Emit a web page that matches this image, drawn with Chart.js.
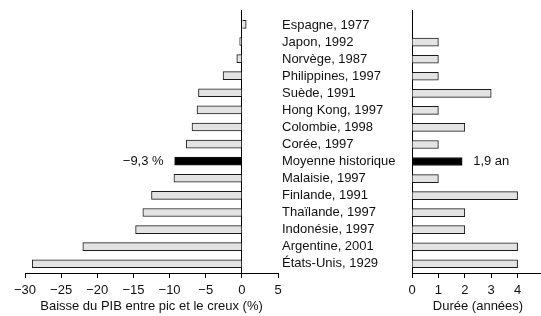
<!DOCTYPE html>
<html>
<head>
<meta charset="utf-8">
<script src="https://cdn.jsdelivr.net/npm/chart.js@4.4.0/dist/chart.umd.min.js"></script>
<style>
html, body { margin: 0; padding: 0; background: #fff; overflow: hidden; width: 541px; height: 316px; }
#left { position: absolute; left: 0; top: 0; }
#right { position: absolute; left: 276px; top: 0; }
</style>
</head>
<body>
<canvas id="left" width="292" height="316"></canvas>
<canvas id="right" width="280" height="316"></canvas>
<script>
// rows top to bottom
const countries = ['Espagne, 1977', 'Japon, 1992', 'Norvège, 1987', 'Philippines, 1997', 'Suède, 1991',
    'Hong Kong, 1997', 'Colombie, 1998', 'Corée, 1997', 'Moyenne historique', 'Malaisie, 1997',
    'Finlande, 1991', 'Thaïlande, 1997', 'Indonésie, 1997', 'Argentine, 2001', 'États-Unis, 1929'];
const gdpDrop = [0.6, -0.3, -0.7, -2.6, -6.0, -6.2, -6.9, -7.7, -9.3, -9.4, -12.5, -13.7, -14.7, -22.0, -29.0];
const duration = [0, 1, 1, 1, 3, 1, 2, 1, 1.9, 1, 4, 2, 2, 4, 4];
const avgIndex = 8;
const gdpTicks = [-30, -25, -20, -15, -10, -5, 0, 5];
const durTicks = [0, 1, 2, 3, 4, 5];

Chart.defaults.font.family = '"Liberation Sans", Arial, sans-serif';
Chart.defaults.font.size = 13;
Chart.defaults.color = '#111';

const fillColors = countries.map((c, i) => i === avgIndex ? '#000' : '#e3e3e3');

function fmt(v) {
    return v < 0 ? '\u2212' + Math.abs(v) : String(v);
}

const valueLabel = {
    id: 'valueLabel',
    afterDatasetsDraw(chart, args, opts) {
        const bar = chart.getDatasetMeta(0).data[avgIndex];
        const ctx = chart.ctx;
        ctx.save();
        ctx.font = '13px "Liberation Sans", Arial, sans-serif';
        ctx.fillStyle = '#111';
        ctx.textBaseline = 'middle';
        ctx.textAlign = opts.align;
        ctx.fillText(opts.text, bar.x + opts.dx, bar.y);
        ctx.restore();
    }
};

function rowAxis(extra) {
    return Object.assign({
        type: 'linear',
        reverse: true,
        offset: false,
        min: -0.84,
        max: 14.54,
        afterBuildTicks: scale => { scale.ticks = countries.map((c, i) => ({ value: i })); }
    }, extra);
}

function valueAxis(min, max, tickVals, title, gridColor) {
    return {
        type: 'linear',
        min: min,
        max: max,
        afterBuildTicks: scale => { scale.ticks = tickVals.map(v => ({ value: v })); },
        afterFit: scale => { scale.height = 40; },
        ticks: { callback: v => fmt(v), padding: 6, color: '#111', font: { lineHeight: 1 } },
        grid: { color: gridColor, tickColor: '#000', tickLength: 5 },
        border: { display: true, color: '#000' },
        title: { display: true, text: title, color: '#111', font: { lineHeight: 1 }, padding: { top: 4, bottom: 0 } }
    };
}

new Chart(document.getElementById('left'), {
    type: 'bar',
    data: {
        datasets: [{
            data: countries.map((c, i) => ({ x: gdpDrop[i], y: i })),
            backgroundColor: fillColors,
            borderColor: '#1a1a1a',
            borderWidth: 1,
            barThickness: 8
        }]
    },
    options: {
        indexAxis: 'y',
        responsive: false,
        animation: false,
        layout: { padding: { left: 25, right: 14, top: 10, bottom: 3 } },
        plugins: {
            legend: { display: false },
            tooltip: { enabled: false },
            valueLabel: { text: '\u22129,3 %', dx: -11, align: 'right' }
        },
        scales: {
            x: valueAxis(-30, 5, gdpTicks, 'Baisse du PIB entre pic et le creux (%)',
                ctx => (ctx.tick && ctx.tick.value === 0) ? '#000' : 'rgba(0,0,0,0)'),
            y: rowAxis({ display: false })
        }
    },
    plugins: [valueLabel]
});

new Chart(document.getElementById('right'), {
    type: 'bar',
    data: {
        datasets: [{
            data: countries.map((c, i) => ({ x: duration[i], y: i })),
            backgroundColor: fillColors,
            borderColor: '#1a1a1a',
            borderWidth: 1,
            barThickness: 8
        }]
    },
    options: {
        indexAxis: 'y',
        responsive: false,
        animation: false,
        layout: { padding: { left: 6, right: 12, top: 10, bottom: 3 } },
        plugins: {
            legend: { display: false },
            tooltip: { enabled: false },
            valueLabel: { text: '1,9 an', dx: 11, align: 'left' }
        },
        scales: {
            x: valueAxis(0, 5, durTicks, 'Durée (années)', 'rgba(0,0,0,0)'),
            y: rowAxis({
                position: 'left',
                afterFit: scale => { scale.width = 130; },
                grid: { display: false },
                border: { display: true, color: '#000' },
                ticks: { crossAlign: 'far', autoSkip: false, color: '#111', callback: v => countries[v] }
            })
        }
    },
    plugins: [valueLabel]
});
</script>
</body>
</html>
